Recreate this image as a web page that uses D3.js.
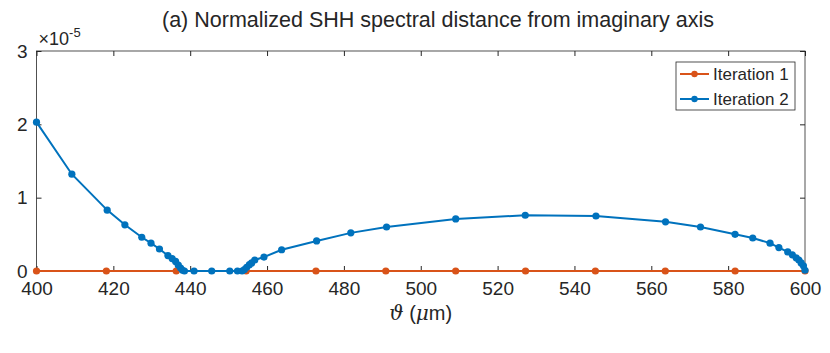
<!DOCTYPE html>
<html>
<head>
<meta charset="utf-8">
<script src="https://cdn.jsdelivr.net/npm/d3@7"></script>
<style>
  body { margin: 0; background: #fff; }
  text { font-family: "Liberation Sans", Arial, sans-serif; fill: #262626; }
</style>
</head>
<body>
<svg id="chart" width="830" height="353"></svg>
<script>
// values (y in units of 1e-5)
var iter1X = [400, 418.18, 436.36, 454.55, 472.73, 490.91, 509.09, 527.27, 545.45, 563.64, 581.82, 600];
var iter1Y = [0, 0, 0, 0, 0, 0, 0, 0, 0, 0, 0, 0];

var iter2X = [400, 409.2, 418.4, 423, 427.4, 429.8, 432, 434.2, 435.3, 436.2, 436.9, 437.5, 438, 438.5,
  441, 445.6, 450.3, 452.3, 453.5, 454.1, 454.7, 455.4, 456, 456.8, 459.2, 463.8, 472.9, 481.8,
  491.1, 509.1, 527.2, 545.6, 563.7, 572.8, 581.8, 586.4, 590.9, 593.2, 595.5, 596.7, 597.7,
  598.4, 599, 599.6, 600];
var iter2Y = [2.03, 1.32, 0.83, 0.63, 0.46, 0.38, 0.30, 0.21, 0.17, 0.13, 0.08, 0.04, 0.01, 0,
  0, 0, 0, 0, 0, 0.02, 0.05, 0.086, 0.11, 0.15, 0.19, 0.29, 0.41, 0.52,
  0.60, 0.71, 0.76, 0.75, 0.67, 0.60, 0.50, 0.45, 0.38, 0.32, 0.26, 0.22, 0.18,
  0.15, 0.11, 0.07, 0.01];

var xTicks = [400, 420, 440, 460, 480, 500, 520, 540, 560, 580, 600];
var yTicks = [0, 1, 2, 3];
var seriesNames = ["Iteration 1", "Iteration 2"];
var colors = ["#D95319", "#0072BD"];

var svg = d3.select("#chart"),
    pLeft = 36.5, pRight = 805, pTop = 51, pBottom = 271;

var x = d3.scaleLinear().domain([400, 600]).range([pLeft, pRight]);
var y = d3.scaleLinear().domain([0, 3]).range([pBottom, pTop]);

// axes box with inward ticks
var tickLen = 5;
var g = svg.append("g");

g.append("g").attr("transform", "translate(0," + pBottom + ")")
  .call(d3.axisBottom(x).tickValues(xTicks).tickSizeInner(-tickLen).tickSizeOuter(0).tickPadding(11).tickFormat(d3.format("d")))
  .call(function (a) { a.select(".domain").remove(); a.selectAll("text").attr("font-size", 19); });
g.append("g").attr("transform", "translate(0," + pTop + ")")
  .call(d3.axisTop(x).tickValues(xTicks).tickSizeInner(-tickLen).tickSizeOuter(0).tickFormat(""))
  .call(function (a) { a.select(".domain").remove(); });
g.append("g").attr("transform", "translate(" + pLeft + ",0)")
  .call(d3.axisLeft(y).tickValues(yTicks).tickSizeInner(-tickLen).tickSizeOuter(0).tickPadding(9).tickFormat(d3.format("d")))
  .call(function (a) { a.select(".domain").remove(); a.selectAll("text").attr("font-size", 19); });
g.append("g").attr("transform", "translate(" + pRight + ",0)")
  .call(d3.axisRight(y).tickValues(yTicks).tickSizeInner(-tickLen).tickSizeOuter(0).tickFormat(""))
  .call(function (a) { a.select(".domain").remove(); });
g.selectAll(".tick line").attr("stroke", "#262626");
g.selectAll(".tick text").attr("fill", "#262626").style("font-family", "Liberation Sans, Arial, sans-serif");

svg.append("rect")
  .attr("x", pLeft).attr("y", pTop)
  .attr("width", pRight - pLeft).attr("height", pBottom - pTop)
  .attr("fill", "none").attr("stroke", "#262626").attr("stroke-width", 0.8);

// exponent label
var ex = svg.append("text").attr("x", pLeft + 2).attr("y", pTop - 6).attr("font-size", 18);
ex.append("tspan").text("\u00d710");
ex.append("tspan").attr("dy", -8).attr("font-size", 13).text("-5");

// series
var series = [
  { x: iter1X, y: iter1Y },
  { x: iter2X, y: iter2Y }
];
var line = d3.line().x(function (d) { return x(d[0]); }).y(function (d) { return y(d[1]); });

series.forEach(function (s, i) {
  var pts = d3.zip(s.x, s.y);
  svg.append("path").datum(pts)
    .attr("d", line).attr("fill", "none")
    .attr("stroke", colors[i]).attr("stroke-width", 2);
  svg.append("g").selectAll("circle").data(pts).enter().append("circle")
    .attr("cx", function (d) { return x(d[0]); })
    .attr("cy", function (d) { return y(d[1]); })
    .attr("r", 3.6).attr("fill", colors[i]);
});

// title
svg.append("text").attr("x", 438).attr("y", 27)
  .attr("text-anchor", "middle").attr("font-size", 21.5)
  .text("(a) Normalized SHH spectral distance from imaginary axis");

// x label
var xl = svg.append("text").attr("x", (pLeft + pRight) / 2).attr("y", 320)
  .attr("text-anchor", "middle").attr("font-size", 20);
xl.append("tspan").attr("font-family", "DejaVu Serif, serif").attr("font-style", "italic").text("\u03d1");
xl.append("tspan").text(" (");
xl.append("tspan").attr("font-family", "DejaVu Serif, serif").attr("font-style", "italic").text("\u03bc");
xl.append("tspan").text("m)");

// legend
var lg = svg.append("g");
lg.append("rect").attr("x", 676).attr("y", 62).attr("width", 119).attr("height", 48)
  .attr("fill", "#fff").attr("stroke", "#262626").attr("stroke-width", 0.8);
seriesNames.forEach(function (name, i) {
  var yy = 74 + i * 25;
  lg.append("line").attr("x1", 680).attr("x2", 709).attr("y1", yy).attr("y2", yy)
    .attr("stroke", colors[i]).attr("stroke-width", 2);
  lg.append("circle").attr("cx", 694.5).attr("cy", yy).attr("r", 3.2).attr("fill", colors[i]);
  lg.append("text").attr("x", 713).attr("y", yy + 6).attr("font-size", 17).text(name);
});
</script>
</body>
</html>
